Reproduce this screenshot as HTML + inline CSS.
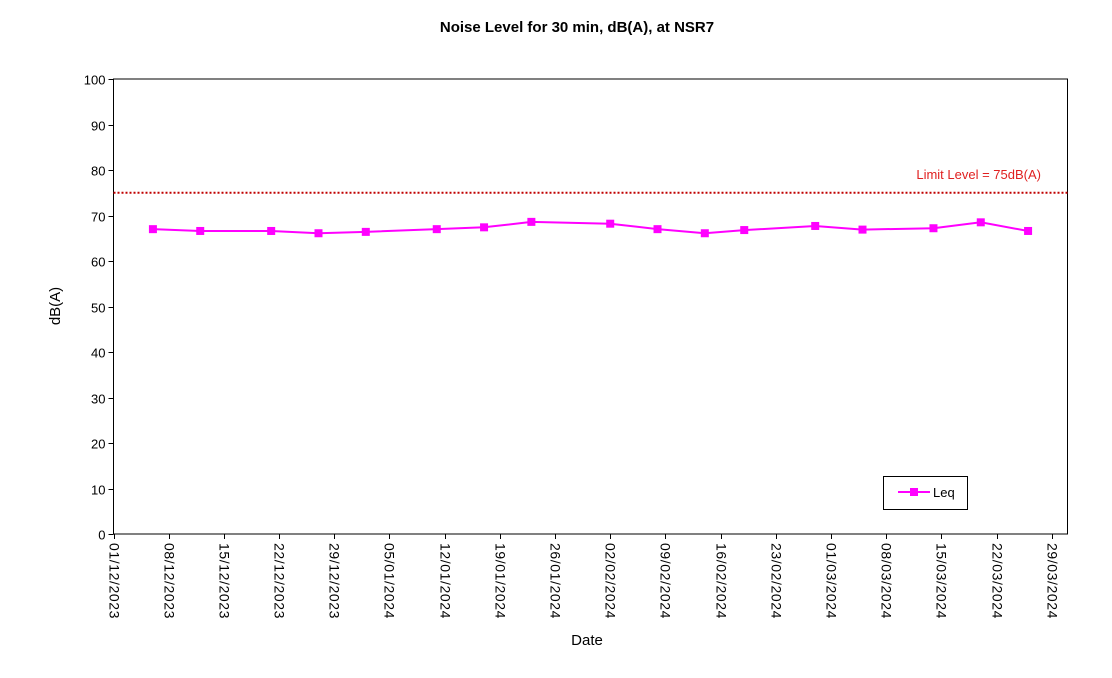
<!DOCTYPE html>
<html><head><meta charset="utf-8"><style>
body{margin:0;background:#fff;}
svg{display:block;font-family:"Liberation Sans",Arial,sans-serif;}
</style></head><body>
<svg id="chart" width="1112" height="678">
<text x="577" y="32" text-anchor="middle" font-size="15" font-weight="bold">Noise Level for 30 min, dB(A), at NSR7</text>
<text x="0" y="0" transform="translate(60,306) rotate(-90)" text-anchor="middle" font-size="15">dB(A)</text>
<text x="587" y="645" text-anchor="middle" font-size="15">Date</text>
<g id="yaxis"></g>
<g id="xaxis"></g>
<g id="limit"></g>
<g id="series"></g>
<g>
<rect x="883.5" y="476.5" width="84" height="33" fill="#fff" stroke="#000"/>
<line x1="898" y1="492" x2="930" y2="492" stroke="#ff00ff" stroke-width="2"/>
<rect x="910" y="488" width="8" height="8" fill="#ff00ff"/>
<text x="933" y="497" font-size="13">Leq</text>
</g>
</svg>
<script>
const dayOffsets=[5,11,20,26,32,41,47,53,63,69,75,80,89,95,104,110,116];
const leqValues=[67.0,66.6,66.6,66.1,66.4,67.0,67.4,68.6,68.2,67.0,66.1,66.8,67.7,66.9,67.2,68.5,66.6];
const yTicks=[0,10,20,30,40,50,60,70,80,90,100];
const xTickLabels=["01/12/2023","08/12/2023","15/12/2023","22/12/2023","29/12/2023","05/01/2024","12/01/2024","19/01/2024","26/01/2024","02/02/2024","09/02/2024","16/02/2024","23/02/2024","01/03/2024","08/03/2024","15/03/2024","22/03/2024","29/03/2024"];
const limitValue=75;
const NS="http://www.w3.org/2000/svg";
const L=113.5,R=1067.5,T=79,B=534,DAYMAX=121,YMAX=100;
function xs(d){return L+d*(R-L)/DAYMAX;}
function ys(v){return B-v*(B-T)/YMAX;}
function mk(tag,attrs,parent){const e=document.createElementNS(NS,tag);for(const k in attrs)e.setAttribute(k,attrs[k]);parent.appendChild(e);return e;}
const ya=document.getElementById('yaxis'),xa=document.getElementById('xaxis');
const frame=mk('rect',{x:L,y:T,width:R-L,height:B-T,fill:'none',stroke:'#000','stroke-width':1},ya);


yTicks.forEach(v=>{
 const y=Math.round(ys(v))+0.5;
 const t=mk('line',{x1:L-5,x2:L,y1:y,y2:y,stroke:'#000'},ya);
 
 
 const tx=mk('text',{x:L-8,y:y+5,'text-anchor':'end','font-size':13},ya);
 tx.textContent=v;
 
 
});
xTickLabels.forEach((lab,i)=>{
 const x=Math.round(xs(i*7))+0.5;
 const t=mk('line',{x1:x,x2:x,y1:B,y2:B+5,stroke:'#000'},xa);
 
 
 const tx=mk('text',{x:0,y:0,transform:`translate(${x-5},543) rotate(90)`,'font-size':14,'letter-spacing':0.6},xa);
 tx.textContent=lab;
 
 
});
const lg=document.getElementById('limit');
const ly=ys(limitValue);
const ll=mk('line',{x1:L,x2:R,y1:ly,y2:ly,stroke:'#c00000','stroke-width':2,'stroke-dasharray':'2,2'},lg);


const lt=mk('text',{x:1041,y:ly-14,'text-anchor':'end','font-size':13,fill:'#e02020'},lg);
lt.textContent='Limit Level  = 75dB(A)';


const sg=document.getElementById('series');
const pts=dayOffsets.map((d,i)=>xs(d).toFixed(1)+','+ys(leqValues[i]).toFixed(1)).join(' ');
const pl=mk('polyline',{points:pts,fill:'none',stroke:'#ff00ff','stroke-width':2},sg);


dayOffsets.forEach((d,i)=>{
 const r=mk('rect',{x:xs(d)-4,y:ys(leqValues[i])-4,width:8,height:8,fill:'#ff00ff'},sg);
 
 
});
</script>
</body></html>
